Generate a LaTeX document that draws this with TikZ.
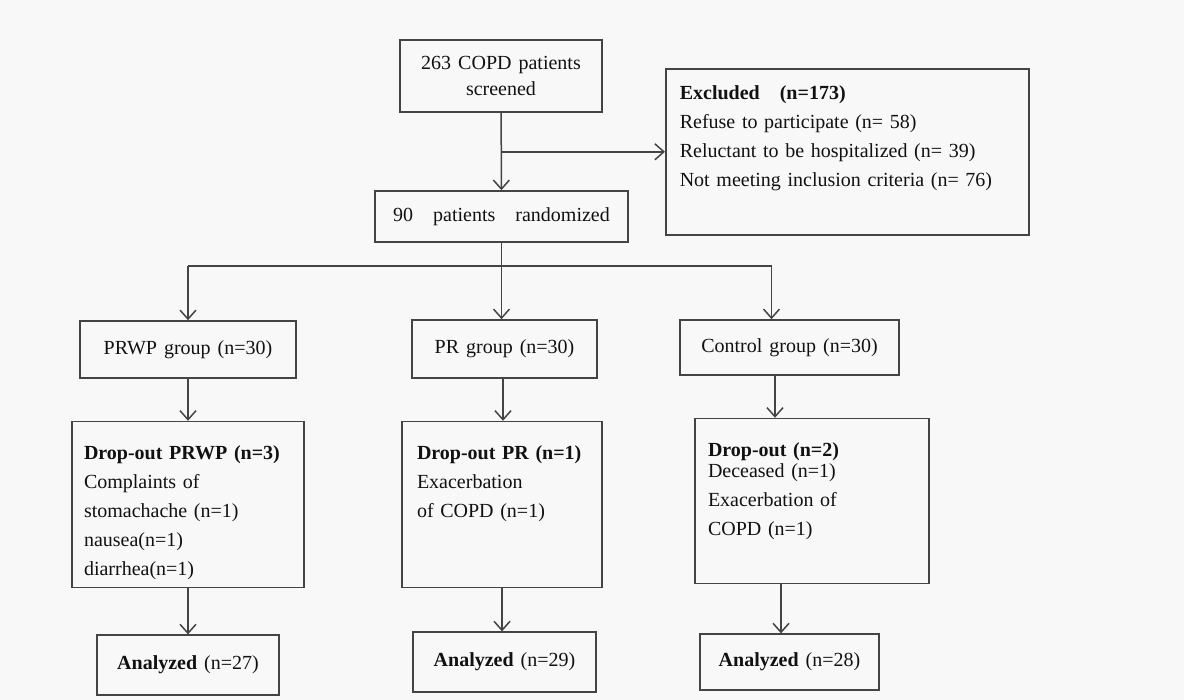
\documentclass[tikz,border=0pt]{standalone}
\usepackage{fontspec}
\setmainfont{Liberation Serif}
\usetikzlibrary{arrows.meta, positioning, calc}
\definecolor{flowline}{HTML}{444444}
\definecolor{flowtext}{HTML}{111111}
\definecolor{flowbg}{HTML}{F8F8F8}

\begin{document}
\begin{tikzpicture}[
    x=1pt, y=-1pt,
    every node/.style={font={\fontsize{20}{29}\selectfont\spaceskip=7pt plus 2pt minus 1pt}, text=flowtext},
    box/.style={draw=flowline, line width=1.6pt, inner sep=0pt, align=center},
    listbox/.style={draw=flowline, line width=1.6pt, inner ysep=0pt, align=left},
    arrow/.style={-{Straight Barb[length=9pt, width=16pt, line width=1.5pt]}, line width=1.5pt, draw=flowline},
    link/.style={line width=1.5pt, draw=flowline}
]
    \fill[flowbg] (0,0) rectangle (1184,700);
    \useasboundingbox (0,0) rectangle (1184,700);

    % screening and exclusion
    \node[box, minimum width=202pt, minimum height=72pt] (screen) at (501,76) {263 COPD patients\\[-3pt]screened};
    \node[listbox, anchor=north west, inner xsep=14pt, text width=335pt, text height=31pt, text depth=135pt] (excl) at (665,68)
        {\textbf{Excluded\quad (n=173)}\\Refuse to participate (n= 58)\\Reluctant to be hospitalized (n= 39)\\Not meeting inclusion criteria (n= 76)};
    \node[box, minimum width=253pt, minimum height=51pt] (rand) at (501.5,216.5) {90\quad patients\quad randomized};

    % groups
    \node[box, minimum width=216pt, minimum height=57pt] (prwp) at (188,349.5) {PRWP group (n=30)};
    \node[box, minimum width=185pt, minimum height=58pt] (pr) at (504.5,349) {PR group (n=30)};
    \node[box, minimum width=219pt, minimum height=55pt] (ctrl) at (789.5,347.5) {Control group (n=30)};

    % drop-outs
    \node[listbox, below=42pt of prwp, inner xsep=12pt, text width=208pt, text height=38pt, text depth=128pt] (drop1)
        {\textbf{Drop-out PRWP (n=3)}\\Complaints of\\stomachache (n=1)\\nausea(n=1)\\diarrhea(n=1)};
    \node[listbox, below=42pt of pr, xshift=-2.5pt, inner xsep=15pt, text width=170pt, text height=38pt, text depth=128pt] (drop2)
        {\textbf{Drop-out PR (n=1)}\\Exacerbation\\of COPD (n=1)};
    \node[listbox, below=42pt of ctrl, xshift=22.5pt, inner xsep=13pt, text width=208pt, text height=38pt, text depth=127pt] (drop3)
        {\textbf{Drop-out (n=2)}\\[-8pt]Deceased (n=1)\\Exacerbation of\\COPD (n=1)};

    % analyzed
    \node[box, below=46pt of drop1, minimum width=182pt, minimum height=60pt] (ana1) {\textbf{Analyzed} (n=27)};
    \node[box, below=43pt of drop2, xshift=2.5pt, minimum width=183pt, minimum height=60pt] (ana2) {\textbf{Analyzed} (n=29)};
    \node[box, below=49pt of drop3, xshift=-22.5pt, minimum width=179pt, minimum height=56pt] (ana3) {\textbf{Analyzed} (n=28)};

    % connectors
    \coordinate (split) at (screen.south |- excl.west);
    \coordinate (fork) at ($(rand.south)+(0,23)$);
    \coordinate (c1) at (fork -| prwp.north);
    \coordinate (c3) at ($(fork -| ctrl.north)+(-18,0)$);

    \draw[arrow] (screen) -- (rand);
    \draw[arrow] (split) -- (excl.west);
    \draw[link] (rand.south) -- (fork);
    \draw[link] (c1) -- (c3);
    \draw[arrow] (c1) -- (prwp);
    \draw[arrow] (fork) -- (fork |- pr.north);
    \draw[arrow] (c3) -- (c3 |- ctrl.north);

    \draw[arrow] (prwp.south) -- (prwp.south |- drop1.north);
    \draw[arrow] ([xshift=-1.5pt]pr.south) -- ([xshift=-1.5pt]pr.south |- drop2.north);
    \draw[arrow] ([xshift=-14.5pt]ctrl.south) -- ([xshift=-14.5pt]ctrl.south |- drop3.north);

    \draw[arrow] (drop1.south) -- (drop1.south |- ana1.north);
    \draw[arrow] (drop2.south) -- (drop2.south |- ana2.north);
    \draw[arrow] ([xshift=-31pt]drop3.south) -- ([xshift=-31pt]drop3.south |- ana3.north);
\end{tikzpicture}
\end{document}
